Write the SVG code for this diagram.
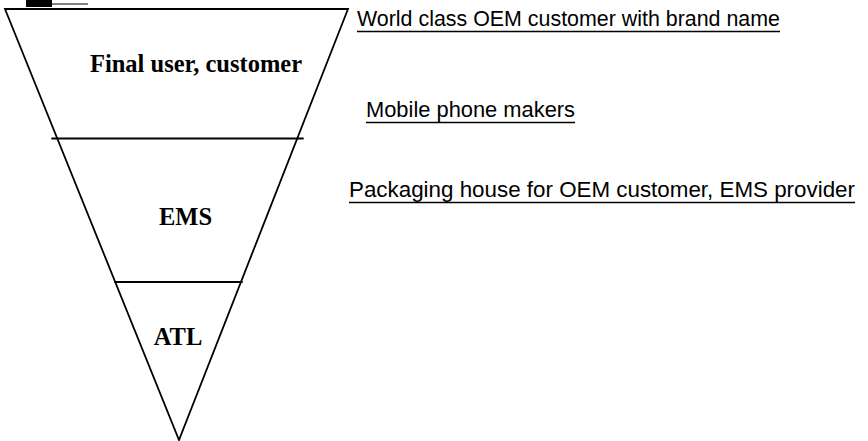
<svg xmlns="http://www.w3.org/2000/svg" width="868" height="441" viewBox="0 0 868 441">
<style>
.ln{stroke:#000;stroke-width:1.8;fill:none;stroke-linecap:round;stroke-linejoin:miter}
.tier{font-family:"Liberation Serif","Times New Roman",serif;font-weight:bold;font-size:24.5px;fill:#000;text-anchor:middle}
.lab{font-family:"Liberation Sans",Arial,sans-serif;font-size:21.8px;fill:#000}
.ul{stroke:#000;stroke-width:1.6}
</style>
<rect width="868" height="441" fill="#fff"/>
<g id="artifact">
<rect x="26" y="0" width="26" height="7" fill="#000"/>
<line x1="52" y1="4" x2="88" y2="4" stroke="#000" stroke-width="1"/>
</g>
<g id="funnel">
<polygon class="ln" points="5,9 348,9 179,440"/>
</g>
<g id="connectors">
<line class="ln" x1="52" y1="138.5" x2="303" y2="138.5"/>
<line class="ln" x1="115" y1="282" x2="242" y2="282"/>
</g>
<g id="tier-final">
<text class="tier" x="196" y="72">Final user, customer</text>
</g>
<g id="tier-ems">
<text class="tier" x="185.5" y="225">EMS</text>
</g>
<g id="tier-atl">
<text class="tier" x="178" y="345">ATL</text>
</g>
<g id="label-oem">
<text class="lab" x="357" y="26" textLength="423" lengthAdjust="spacingAndGlyphs">World class OEM customer with brand name</text>
<line class="ul" x1="357" y1="31.5" x2="780" y2="31.5"/>
</g>
<g id="label-mobile">
<text class="lab" x="366" y="117" textLength="209" lengthAdjust="spacingAndGlyphs">Mobile phone makers</text>
<line class="ul" x1="366" y1="122.5" x2="575" y2="122.5"/>
</g>
<g id="label-packaging">
<text class="lab" x="349" y="197" textLength="506" lengthAdjust="spacingAndGlyphs">Packaging house for OEM customer, EMS provider</text>
<line class="ul" x1="349" y1="202.5" x2="855" y2="202.5"/>
</g>
</svg>
